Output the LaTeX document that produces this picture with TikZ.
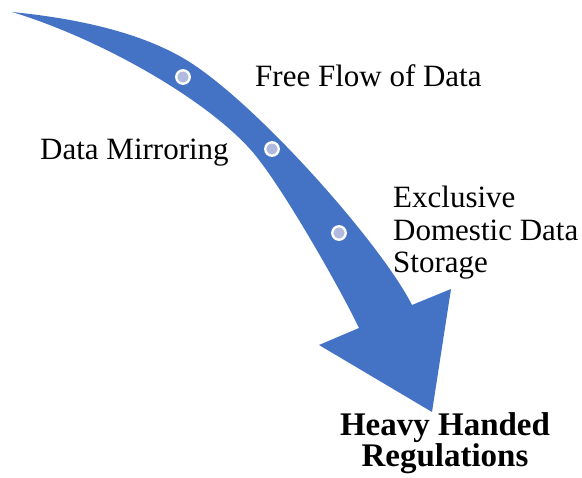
\documentclass[tikz,border=0pt]{standalone}
\usepackage{fontspec}
\setmainfont{Liberation Serif}
\definecolor{flowblue}{HTML}{4472C4}
\definecolor{dotfill}{HTML}{B0BBDF}
\tikzset{
  stage/.style={circle, fill=dotfill, draw=white, line width=2.3pt, minimum size=13.5pt, inner sep=0pt},
  label/.style={inner sep=0pt, font=\fontsize{31}{32.5}\selectfont},
  goal/.style={inner sep=0pt, align=center, font=\fontsize{33}{30}\selectfont\bfseries}
}
\begin{document}
\begin{tikzpicture}[x=1pt,y=-1pt]
\useasboundingbox (0,0) rectangle (582,478);
% curved band with its arrowhead
\fill[flowblue]
  (12,12) .. controls (72,18) and (135.4,30.5) .. (183,58)
          .. controls (252,98) and (380.5,242.7) .. (412,305)
  -- (451,289) -- (432,412) -- (319,345) -- (359,328)
          .. controls (342,292) and (280,182) .. (250,149)
          .. controls (203,97) and (98,38) .. (12,12)
  -- cycle;
% stage markers on the band
\node[stage] (s1) at (183,77) {};
\node[stage] (s2) at (272,149) {};
\node[stage] (s3) at (339,233) {};
% stage labels
\node[label, anchor=base west] (free) at (255,86.5) {Free Flow of Data};
\node[label, anchor=base west] (mirror) at (40,160) {Data Mirroring};
\node[label, anchor=base west, align=left] (excl) at (393,273) {Exclusive\\Domestic Data\\Storage};
\node[goal, anchor=base] (heavy) at (445,467) {Heavy Handed\\Regulations};
\end{tikzpicture}
\end{document}
